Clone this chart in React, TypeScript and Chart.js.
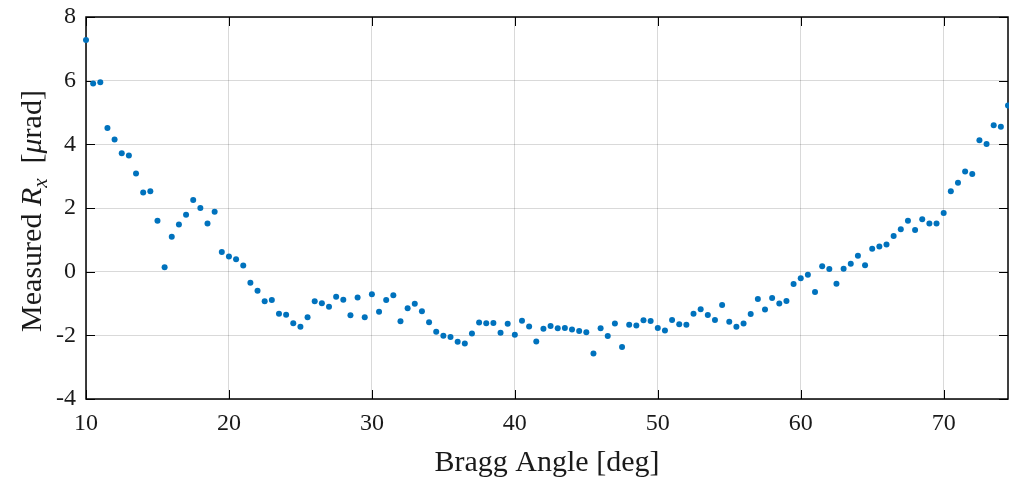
import React, { useEffect, useRef } from "react";
import { Chart, registerables } from "chart.js";

Chart.register(...registerables);

const angles = [
  10, 10.5, 11, 11.5, 12, 12.5, 13, 13.5, 14, 14.5, 15, 15.5, 16, 16.5, 17, 17.5, 18, 18.5, 19, 19.5,
  20, 20.5, 21, 21.5, 22, 22.5, 23, 23.5, 24, 24.5, 25, 25.5, 26, 26.5, 27, 27.5, 28, 28.5, 29, 29.5,
  30, 30.5, 31, 31.5, 32, 32.5, 33, 33.5, 34, 34.5, 35, 35.5, 36, 36.5, 37, 37.5, 38, 38.5, 39, 39.5,
  40, 40.5, 41, 41.5, 42, 42.5, 43, 43.5, 44, 44.5, 45, 45.5, 46, 46.5, 47, 47.5, 48, 48.5, 49, 49.5,
  50, 50.5, 51, 51.5, 52, 52.5, 53, 53.5, 54, 54.5, 55, 55.5, 56, 56.5, 57, 57.5, 58, 58.5, 59, 59.5,
  60, 60.5, 61, 61.5, 62, 62.5, 63, 63.5, 64, 64.5, 65, 65.5, 66, 66.5, 67, 67.5, 68, 68.5, 69, 69.5,
  70, 70.5, 71, 71.5, 72, 72.5, 73, 73.5, 74, 74.5,
];

const measuredRx = [
  7.28, 5.91, 5.95, 4.51, 4.15, 3.72, 3.65, 3.08, 2.49, 2.53, 1.6, 0.14, 1.1, 1.48, 1.79, 2.25, 2.0, 1.51, 1.88, 0.62,
  0.48, 0.39, 0.19, -0.35, -0.6, -0.93, -0.89, -1.32, -1.35, -1.62, -1.73, -1.43, -0.93, -0.99, -1.1, -0.79, -0.88, -1.37, -0.81, -1.43,
  -0.71, -1.26, -0.89, -0.74, -1.56, -1.15, -1.01, -1.24, -1.59, -1.89, -2.01, -2.05, -2.2, -2.26, -1.94, -1.6, -1.62, -1.61, -1.92, -1.64,
  -1.98, -1.54, -1.72, -2.19, -1.79, -1.71, -1.78, -1.77, -1.82, -1.86, -1.9, -2.57, -1.78, -2.02, -1.63, -2.37, -1.67, -1.69, -1.53, -1.55,
  -1.77, -1.85, -1.52, -1.65, -1.67, -1.32, -1.18, -1.36, -1.52, -1.05, -1.57, -1.73, -1.63, -1.33, -0.86, -1.19, -0.83, -1.0, -0.92, -0.39,
  -0.21, -0.1, -0.64, 0.17, 0.08, -0.38, 0.09, 0.25, 0.5, 0.2, 0.72, 0.79, 0.85, 1.12, 1.33, 1.6, 1.31, 1.65, 1.51, 1.51,
  1.84, 2.53, 2.79, 3.15, 3.07, 4.13, 4.01, 4.6, 4.55, 5.22,
];

const xTicks = [10, 20, 30, 40, 50, 60, 70];
const yTicks = [-4, -2, 0, 2, 4, 6, 8];
const xTitle = "Bragg Angle [deg]";
const yTitleParts = [
  { text: "Measured ", italic: false, sub: false },
  { text: "R", italic: true, sub: false },
  { text: "x", italic: true, sub: true },
  { text: "  [", italic: false, sub: false },
  { text: "μ", italic: true, sub: false },
  { text: "rad]", italic: false, sub: false },
];

const FONT = "'Liberation Serif', 'DejaVu Serif', serif";
const TITLE_SIZE = 30;
const TICK_LEN = 9;

const framePlugin = {
  id: "frame",
  beforeDatasetsDraw(chart: any) {
    const { ctx, chartArea: a, scales } = chart;
    ctx.save();
    ctx.strokeStyle = "#000";
    ctx.lineWidth = 1;
    ctx.beginPath();
    xTicks.forEach((v) => {
      const px = Math.round(scales.x.getPixelForValue(v)) + 0.5;
      ctx.moveTo(px, a.bottom);
      ctx.lineTo(px, a.bottom - TICK_LEN);
      ctx.moveTo(px, a.top);
      ctx.lineTo(px, a.top + TICK_LEN);
    });
    yTicks.forEach((v) => {
      const py = Math.round(scales.y.getPixelForValue(v)) + 0.5;
      ctx.moveTo(a.left, py);
      ctx.lineTo(a.left + TICK_LEN, py);
      ctx.moveTo(a.right, py);
      ctx.lineTo(a.right - TICK_LEN, py);
    });
    ctx.stroke();
    ctx.lineWidth = 1.5;
    ctx.strokeRect(a.left, a.top, a.right - a.left, a.bottom - a.top);
    ctx.restore();
  },
  afterDraw(chart: any) {
    const { ctx, chartArea: a } = chart;
    ctx.save();
    ctx.fillStyle = "#1a1a1a";
    ctx.textBaseline = "alphabetic";
    ctx.font = `${TITLE_SIZE}px ${FONT}`;
    ctx.textAlign = "center";
    ctx.fillText(xTitle, (a.left + a.right) / 2, 471);
    const fontFor = (p: any) =>
      `${p.italic ? "italic " : ""}${p.sub ? Math.round(TITLE_SIZE * 0.7) : TITLE_SIZE}px ${FONT}`;
    let total = 0;
    const widths = yTitleParts.map((p) => {
      ctx.font = fontFor(p);
      const w = ctx.measureText(p.text).width;
      total += w;
      return w;
    });
    ctx.translate(41, (a.top + a.bottom) / 2 + 3);
    ctx.rotate(-Math.PI / 2);
    ctx.textAlign = "left";
    let x = -total / 2;
    yTitleParts.forEach((p, i) => {
      ctx.font = fontFor(p);
      ctx.fillText(p.text, x, p.sub ? 6 : 0);
      x += widths[i];
    });
    ctx.restore();
  },
};

export default function App() {
  const ref = useRef<HTMLCanvasElement | null>(null);

  useEffect(() => {
    document.body.style.margin = "0";
    const canvas = ref.current;
    if (!canvas) return;
    const chart = new Chart(canvas, {
      type: "scatter",
      data: {
        datasets: [
          {
            data: angles.map((x, i) => ({ x, y: measuredRx[i] })),
            pointRadius: 3,
            pointBackgroundColor: "#0072BD",
            pointBorderWidth: 0,
            pointBorderColor: "#0072BD",
            clip: false as any,
          },
        ],
      },
      options: {
        animation: false,
        responsive: false,
        events: [],
        layout: { autoPadding: false, padding: { top: 17, right: 1, left: 0, bottom: 0 } },
        plugins: { legend: { display: false }, tooltip: { enabled: false }, title: { display: false } },
        scales: {
          x: {
            type: "linear",
            min: 10,
            max: 74.5,
            afterBuildTicks: (s: any) => {
              s.ticks = xTicks.map((v) => ({ value: v }));
            },
            afterFit: (s: any) => {
              s.height = 82;
              s.paddingLeft = 0;
              s.paddingRight = 0;
            },
            grid: { color: "rgba(0,0,0,0.15)", lineWidth: 1, drawTicks: false },
            border: { display: false },
            ticks: {
              autoSkip: false,
              maxRotation: 0,
              padding: 10,
              color: "#1a1a1a",
              font: { family: FONT, size: 24 },
              callback: (v: any) => String(v),
            },
          },
          y: {
            type: "linear",
            min: -4,
            max: 8,
            afterBuildTicks: (s: any) => {
              s.ticks = yTicks.map((v) => ({ value: v }));
            },
            afterFit: (s: any) => {
              s.width = 86;
              s.paddingTop = 0;
              s.paddingBottom = 0;
            },
            grid: { color: "rgba(0,0,0,0.15)", lineWidth: 1, drawTicks: false },
            border: { display: false },
            ticks: {
              autoSkip: false,
              padding: 10,
              color: "#1a1a1a",
              font: { family: FONT, size: 24 },
              callback: (v: any) => String(v),
            },
          },
        },
      },
      plugins: [framePlugin],
    });
    return () => chart.destroy();
  }, []);

  return <canvas ref={ref} width={1009} height={481} style={{ display: "block" }} />;
}
